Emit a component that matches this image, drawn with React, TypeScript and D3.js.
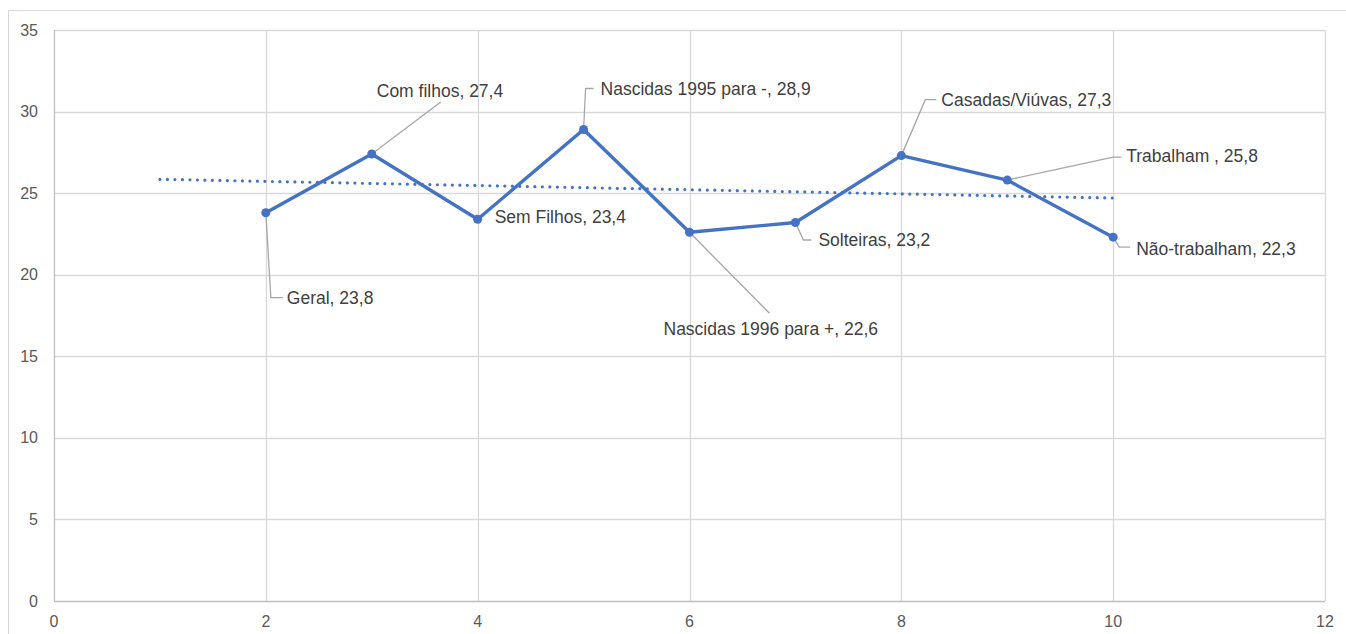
import React from "react";
import * as d3 from "d3";

// ---- Data ----
const xValues = [2, 3, 4, 5, 6, 7, 8, 9, 10];
const yValues = [23.8, 27.4, 23.4, 28.9, 22.6, 23.2, 27.3, 25.8, 22.3];
const categoryNames = [
  "Geral",
  "Com filhos",
  "Sem Filhos",
  "Nascidas 1995 para -",
  "Nascidas 1996 para +",
  "Solteiras",
  "Casadas/Viúvas",
  "Trabalham ",
  "Não-trabalham",
];
const trendX = [1, 10];
const trendY = [25.85, 24.7];
const xTicks = [0, 2, 4, 6, 8, 10, 12];
const yTicks = [0, 5, 10, 15, 20, 25, 30, 35];

// ---- Label layout (pixel offsets from the point) ----
type LabelLayout = { dx: number; dy: number; leader: [number, number][] | null };
const labelLayout: LabelLayout[] = [
  { dx: 21, dy: 85, leader: [[5, 85], [17, 85]] },
  { dx: 5, dy: -63, leader: [[69, -52]] },
  { dx: 17, dy: -2, leader: null },
  { dx: 17, dy: -41, leader: [[2, -41], [10, -41]] },
  { dx: -26, dy: 97, leader: [[80, 81]] },
  { dx: 23, dy: 17.5, leader: [[8, 17.5], [16, 17.5]] },
  { dx: 40, dy: -55.6, leader: [[24, -56], [35, -56]] },
  { dx: 119, dy: -24, leader: [[106, -23], [114, -23]] },
  { dx: 23, dy: 12, leader: [[6, 10], [17, 10]] },
];

const W = 1346;
const H = 634;
const plotLeft = 54;
const plotRight = 1325;
const plotTop = 30;
const plotBottom = 601;

const fmt = (v: number) => String(v).replace(".", ",");

export default function App() {
  const x = d3.scaleLinear().domain([0, 12]).range([plotLeft, plotRight]);
  const y = d3.scaleLinear().domain([0, 35]).range([plotBottom, plotTop]);

  const line = d3
    .line<number>()
    .x((_, i) => x(xValues[i]))
    .y((d) => y(d));

  const trendLine = d3
    .line<number>()
    .x((_, i) => x(trendX[i]))
    .y((d) => y(d));

  const font = "'Liberation Sans', Arial, sans-serif";

  return (
    <svg
      width={W}
      height={H}
      style={{ position: "absolute", left: 0, top: 0, display: "block", background: "#fff" }}
      fontFamily={font}
    >
      <rect x={8.5} y={10.5} width={W + 20} height={H + 20} fill="#fff" stroke="#d9d9d9" strokeWidth={1} />
      {/* grid */}
      {yTicks.map((t) => (
        <line
          key={"gy" + t}
          x1={plotLeft}
          x2={plotRight}
          y1={Math.round(y(t)) + 0.5}
          y2={Math.round(y(t)) + 0.5}
          stroke={t === 0 ? "#bfbfbf" : "#d9d9d9"}
          strokeWidth={1.3}
        />
      ))}
      {xTicks.map((t) => (
        <line
          key={"gx" + t}
          x1={Math.round(x(t)) + 0.5}
          x2={Math.round(x(t)) + 0.5}
          y1={plotTop}
          y2={plotBottom}
          stroke={t === 0 ? "#bfbfbf" : "#d9d9d9"}
          strokeWidth={1.3}
        />
      ))}
      {/* tick labels */}
      {yTicks.map((t) => (
        <text key={"ty" + t} x={38} y={y(t)} dy="0.35em" textAnchor="end" fontSize={16} fill="#595959">
          {t}
        </text>
      ))}
      {xTicks.map((t) => (
        <text key={"tx" + t} x={x(t)} y={621} dy="0.35em" textAnchor="middle" fontSize={16} fill="#595959">
          {t}
        </text>
      ))}
      {/* trend line */}
      <path
        d={trendLine(trendY) || ""}
        fill="none"
        stroke="#4472C4"
        strokeWidth={3.2}
        strokeLinecap="round"
        strokeDasharray="0 7.5"
      />
      {/* leader lines */}
      {yValues.map((v, i) => {
        const L = labelLayout[i];
        if (!L.leader) return null;
        const px = x(xValues[i]);
        const py = y(v);
        const pts = [[px, py], ...L.leader.map(([a, b]) => [px + a, py + b])];
        return (
          <polyline
            key={"ld" + i}
            points={pts.map((p) => p.join(",")).join(" ")}
            fill="none"
            stroke="#a6a6a6"
            strokeWidth={1.3}
          />
        );
      })}
      {/* main line */}
      <path d={line(yValues) || ""} fill="none" stroke="#4472C4" strokeWidth={3.4} strokeLinejoin="round" />
      {yValues.map((v, i) => (
        <circle key={"pt" + i} cx={x(xValues[i])} cy={y(v)} r={4.5} fill="#4472C4" />
      ))}
      {/* labels */}
      {yValues.map((v, i) => {
        const L = labelLayout[i];
        return (
          <text
            key={"lb" + i}
            x={x(xValues[i]) + L.dx}
            y={y(v) + L.dy}
            dy="0.35em"
            fontSize={17.5}
            fill="#404040"
          >
            {categoryNames[i] + ", " + fmt(v)}
          </text>
        );
      })}
    </svg>
  );
}
